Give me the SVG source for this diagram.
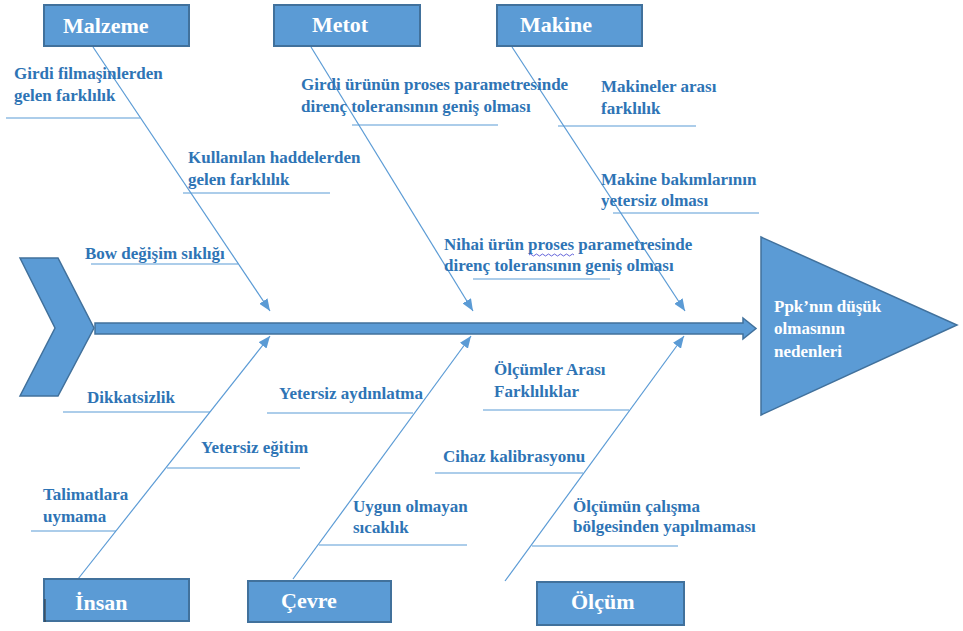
<svg xmlns="http://www.w3.org/2000/svg" width="963" height="631" viewBox="0 0 963 631">
<defs>
<style>
.box{fill:#5B9BD5;stroke:#41719C;stroke-width:2}
.shape{fill:#5B9BD5;stroke:#41719C;stroke-width:1.5}
.bone{stroke:#5B9BD5;stroke-width:1.2;fill:none}
.sub{stroke:#5B9BD5;stroke-width:1.2;fill:none}
.lbl{font-family:"Liberation Serif","Times New Roman",serif;font-weight:bold;font-size:17px;fill:#2E74B5}
.cat{font-family:"Liberation Serif","Times New Roman",serif;font-weight:bold;font-size:22px;fill:#FFFFFF}
.head{font-family:"Liberation Serif","Times New Roman",serif;font-weight:bold;font-size:17px;fill:#FFFFFF}
</style>
<marker id="arr" viewBox="0 0 12 10" refX="12" refY="5" markerWidth="12" markerHeight="10" markerUnits="userSpaceOnUse" orient="auto">
<path d="M0,0 L12,5 L0,10 Z" fill="#5B9BD5"/>
</marker>
</defs>
<rect width="963" height="631" fill="#FFFFFF"/>

<g id="tail"><polygon class="shape" points="20,258 58,258 94,328 58,396 20,396 55,328"/></g>
<g id="spine"><polygon class="shape" points="95,323 743,323 743,318 756,328.5 743,339 743,334 95,334"/></g>
<g id="effect">
<polygon class="shape" points="761,237 957,325 761,415"/>
<text class="head" x="774" y="312">Ppk’nın düşük</text>
<text class="head" x="774" y="334">olmasının</text>
<text class="head" x="774" y="357">nedenleri</text>
</g>

<g id="connectors">
<line class="bone" x1="93" y1="47" x2="270" y2="311" marker-end="url(#arr)"/>
<line class="bone" x1="311" y1="47" x2="473" y2="311" marker-end="url(#arr)"/>
<line class="bone" x1="512" y1="47" x2="685" y2="311" marker-end="url(#arr)"/>
<line class="bone" x1="78" y1="579" x2="270" y2="336" marker-end="url(#arr)"/>
<line class="bone" x1="293" y1="579" x2="471" y2="336" marker-end="url(#arr)"/>
<line class="bone" x1="505" y1="581" x2="684" y2="336" marker-end="url(#arr)"/>
<line class="sub" x1="6" y1="118" x2="140" y2="118"/>
<line class="sub" x1="183" y1="193" x2="330" y2="193"/>
<line class="sub" x1="91" y1="264" x2="238" y2="264"/>
<line class="sub" x1="352" y1="125" x2="498" y2="125"/>
<line class="sub" x1="473" y1="279" x2="610" y2="279"/>
<line class="sub" x1="558" y1="126" x2="696" y2="126"/>
<line class="sub" x1="613" y1="213" x2="759" y2="213"/>
<line class="sub" x1="63" y1="412" x2="210" y2="412"/>
<line class="sub" x1="267" y1="413" x2="413" y2="413"/>
<line class="sub" x1="483" y1="410" x2="629" y2="410"/>
<line class="sub" x1="167" y1="468" x2="300" y2="468"/>
<line class="sub" x1="435" y1="473" x2="583" y2="473"/>
<line class="sub" x1="31" y1="531" x2="116" y2="531"/>
<line class="sub" x1="319" y1="545" x2="467" y2="545"/>
<line class="sub" x1="532" y1="546" x2="678" y2="546"/>
</g>

<g id="malzeme"><rect class="box" x="44" y="5" width="145" height="41"/><text class="cat" x="63" y="33">Malzeme</text></g>
<g id="metot"><rect class="box" x="274" y="5" width="146" height="41"/><text class="cat" x="312" y="32">Metot</text></g>
<g id="makine"><rect class="box" x="497" y="5" width="145" height="41"/><text class="cat" x="520" y="32">Makine</text></g>
<g id="insan"><rect class="box" x="44" y="579" width="145" height="42"/><text class="cat" x="75" y="610">İnsan</text></g>
<g id="cevre"><rect class="box" x="248" y="581" width="143" height="41"/><text class="cat" x="281" y="608">Çevre</text></g>
<g id="olcum"><rect class="box" x="537" y="582" width="147" height="43"/><text class="cat" x="571" y="609">Ölçüm</text></g>

<g id="cause-girdi-filmasin"><text class="lbl" x="14" y="79">Girdi filmaşinlerden</text><text class="lbl" x="14" y="101">gelen farklılık</text></g>
<g id="cause-hadde"><text class="lbl" x="188" y="163">Kullanılan haddelerden</text><text class="lbl" x="188" y="185">gelen farklılık</text></g>
<g id="cause-bow"><text class="lbl" x="85" y="259">Bow değişim sıklığı</text></g>
<g id="cause-girdi-urun"><text class="lbl" x="301" y="90">Girdi ürünün proses parametresinde</text><text class="lbl" x="301" y="112">direnç toleransının geniş olması</text></g>
<g id="cause-nihai"><text class="lbl" x="444" y="250">Nihai ürün proses parametresinde</text><text class="lbl" x="444" y="271">direnç toleransının geniş olması</text>
<path d="M529,255 q1.5,-2 3,0 t3,0 t3,0 t3,0 t3,0 t3,0 t3,0 t3,0 t3,0 t3,0 t3,0 t3,0 t3,0 t3,0 t3,0" fill="none" stroke="#3F3FD0" stroke-width="0.8"/></g>
<g id="cause-makineler"><text class="lbl" x="601" y="92">Makineler arası</text><text class="lbl" x="601" y="114">farklılık</text></g>
<g id="cause-bakim"><text class="lbl" x="601" y="185">Makine bakımlarının</text><text class="lbl" x="601" y="206">yetersiz olması</text></g>
<g id="cause-dikkat"><text class="lbl" x="87" y="403">Dikkatsizlik</text></g>
<g id="cause-aydinlatma"><text class="lbl" x="279" y="399">Yetersiz aydınlatma</text></g>
<g id="cause-olcumler"><text class="lbl" x="494" y="375">Ölçümler Arası</text><text class="lbl" x="494" y="397">Farklılıklar</text></g>
<g id="cause-egitim"><text class="lbl" x="201" y="453">Yetersiz eğitim</text></g>
<g id="cause-cihaz"><text class="lbl" x="443" y="462">Cihaz kalibrasyonu</text></g>
<g id="cause-talimat"><text class="lbl" x="43" y="500">Talimatlara</text><text class="lbl" x="43" y="522">uymama</text></g>
<g id="cause-sicaklik"><text class="lbl" x="353" y="512">Uygun olmayan</text><text class="lbl" x="353" y="533">sıcaklık</text></g>
<g id="cause-bolge"><text class="lbl" x="573" y="512">Ölçümün çalışma</text><text class="lbl" x="573" y="532">bölgesinden yapılmaması</text></g>
<line x1="45" y1="599" x2="45" y2="622" stroke="#333333" stroke-width="1"/>
</svg>
